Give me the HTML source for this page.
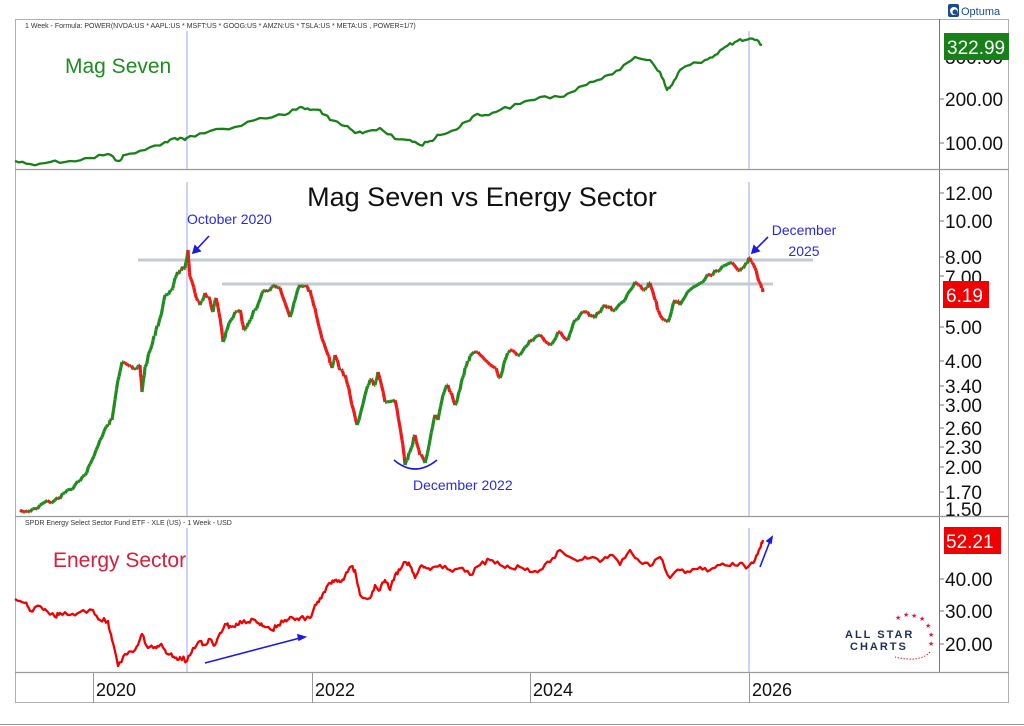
<!DOCTYPE html>
<html><head><meta charset="utf-8"><style>
html,body{margin:0;padding:0;background:#fff;width:1024px;height:726px;overflow:hidden}
svg{display:block;font-family:"Liberation Sans",Arial,sans-serif}
</style></head><body>
<svg id="s" width="1024" height="726" viewBox="0 0 1024 726" xmlns="http://www.w3.org/2000/svg">
<rect x="0" y="0" width="1024" height="726" fill="#fff"/>
<line x1="0" y1="724.5" x2="1024" y2="724.5" stroke="#999" stroke-width="1"/>
<rect x="15.5" y="19.5" width="993" height="683" fill="none" stroke="#b0b0b0" stroke-width="1"/>
<line x1="939.5" y1="19" x2="939.5" y2="672" stroke="#777" stroke-width="1"/>
<line x1="15" y1="169.5" x2="1009" y2="169.5" stroke="#999" stroke-width="1.2"/>
<line x1="15" y1="516.5" x2="1009" y2="516.5" stroke="#999" stroke-width="1.2"/>
<line x1="15" y1="672.5" x2="1009" y2="672.5" stroke="#999" stroke-width="1.2"/>
<g stroke="#999" stroke-width="1">
<line x1="93.5" y1="672" x2="93.5" y2="703"/><line x1="312.5" y1="672" x2="312.5" y2="703"/>
<line x1="530.5" y1="672" x2="530.5" y2="703"/><line x1="749.5" y1="672" x2="749.5" y2="703"/>
</g>
<g font-size="18" fill="#111">
<text x="96" y="696">2020</text><text x="315" y="696">2022</text><text x="533" y="696">2024</text><text x="752" y="696">2026</text>
</g>
<g stroke="#b4baf2" stroke-width="1.3">
<line x1="187" y1="31" x2="187" y2="169"/><line x1="187" y1="182" x2="187" y2="516"/><line x1="187" y1="528" x2="187" y2="672"/>
<line x1="749" y1="31" x2="749" y2="169"/><line x1="749" y1="182" x2="749" y2="516"/><line x1="749" y1="528" x2="749" y2="672"/>
</g>
<text x="25" y="28" font-size="7" fill="#333">1 Week - Formula: POWER(NVDA:US * AAPL:US * MSFT:US * GOOG:US * AMZN:US * TSLA:US * META:US , POWER=1/7)</text>
<text x="25" y="525" font-size="7" fill="#333">SPDR Energy Select Sector Fund ETF - XLE (US) - 1 Week - USD</text>
<text x="65" y="73" font-size="21" fill="#1f8c1f">Mag Seven</text>
<text x="53" y="567" font-size="21" fill="#d4203c">Energy Sector</text>
<text x="482" y="206" font-size="27" fill="#111" text-anchor="middle">Mag Seven vs Energy Sector</text>
<rect x="948" y="4" width="11" height="13" rx="2" fill="#1a4b8c"/><circle cx="954" cy="11" r="4" fill="#fff"/><circle cx="955" cy="12" r="2.5" fill="#1a4b8c"/>
<text x="961" y="15" font-size="11" fill="#1a4b8c">Optuma</text>
<g font-size="19" fill="#111">
<text x="945" y="106">200.00</text><text x="945" y="150">100.00</text><text x="945" y="64">300.00</text>
<text x="945" y="200">12.00</text><text x="945" y="228">10.00</text><text x="945" y="264">8.00</text><text x="945" y="284">7.00</text>
<text x="945" y="334">5.00</text><text x="945" y="368">4.00</text><text x="945" y="393">3.40</text><text x="945" y="412">3.00</text>
<text x="945" y="435">2.60</text><text x="945" y="454">2.30</text><text x="945" y="474">2.00</text><text x="945" y="499">1.70</text><text x="945" y="516">1.50</text>
<text x="945" y="586">40.00</text><text x="945" y="618">30.00</text><text x="945" y="651">20.00</text>
</g>
<g stroke="#777" stroke-width="1">
<line x1="939" y1="99" x2="944" y2="99"/><line x1="939" y1="143" x2="944" y2="143"/>
<line x1="939" y1="193" x2="944" y2="193"/><line x1="939" y1="221" x2="944" y2="221"/><line x1="939" y1="257" x2="944" y2="257"/>
<line x1="939" y1="276" x2="944" y2="276"/><line x1="939" y1="327" x2="944" y2="327"/><line x1="939" y1="361" x2="944" y2="361"/>
<line x1="939" y1="386" x2="944" y2="386"/><line x1="939" y1="405" x2="944" y2="405"/><line x1="939" y1="428" x2="944" y2="428"/>
<line x1="939" y1="447" x2="944" y2="447"/><line x1="939" y1="467" x2="944" y2="467"/><line x1="939" y1="492" x2="944" y2="492"/>
<line x1="939" y1="579" x2="944" y2="579"/><line x1="939" y1="611" x2="944" y2="611"/><line x1="939" y1="644" x2="944" y2="644"/>
</g>
<rect x="944" y="33" width="65" height="27" fill="#188018"/><text x="947" y="54" font-size="19" fill="#fff">322.99</text>
<rect x="943" y="281" width="46" height="27" fill="#f00000"/><text x="946" y="302" font-size="19" fill="#fff">6.19</text>
<rect x="944" y="527" width="57" height="27" fill="#f00000"/><text x="946" y="548" font-size="19" fill="#fff">52.21</text>
<line x1="138" y1="260" x2="813" y2="260" stroke="#c3cad3" stroke-width="3"/>
<line x1="222" y1="284" x2="773" y2="284" stroke="#c3cad3" stroke-width="3"/>
<g id="series"></g>
<g fill="#2a2ae0" font-size="14">
<text x="187" y="224">October 2020</text>
<text x="804" y="235" text-anchor="middle">December</text><text x="804" y="256" text-anchor="middle">2025</text>
<text x="413" y="490">December 2022</text>
</g>
<g stroke="#1a1ae0" stroke-width="1.6" fill="none">
<line x1="209" y1="236" x2="196" y2="250"/><path d="M193,253 l2,-7 l5,5 z" fill="#1a1ae0"/>
<line x1="768" y1="237" x2="755" y2="250"/><path d="M752,253 l2,-7 l5,5 z" fill="#1a1ae0"/>
<path d="M394,460 Q415,478 437,460"/>
<line x1="205" y1="663" x2="300" y2="638"/><path d="M305,637 l-7,-2 l1,5 z" fill="#1a1ae0"/>
<line x1="760" y1="567" x2="770" y2="541"/><path d="M772,537 l-5,4 l4,2 z" fill="#1a1ae0"/>
</g>
<g font-weight="bold" fill="#1d2e5a" font-size="11" letter-spacing="2">
<text x="845" y="638">ALL STAR</text><text x="850" y="650">CHARTS</text>
</g>
<g fill="#d4203c" font-size="7">
<text x="895" y="620">★</text><text x="903" y="617">★</text><text x="911" y="618">★</text><text x="919" y="621">★</text><text x="925" y="628">★</text><text x="928" y="637">★</text><text x="928" y="646">★</text>
</g>
<path d="M930,652 Q920,663 895,657" stroke="#d4203c" stroke-width="1" stroke-dasharray="1.5 1.5" fill="none"/>
</svg>
<script>
(function(){
var g=document.getElementById('series');
var seed=12345;
function rnd(){seed=(seed*1103515245+12345)%2147483648;return seed/2147483648;}
function jit(pts,amp){var out=[pts[0]];for(var i=1;i<pts.length;i++){var a=pts[i-1],b=pts[i];for(var k=1;k<4;k++){var t=k/4;out.push([a[0]+(b[0]-a[0])*t,a[1]+(b[1]-a[1])*t+(rnd()-0.5)*2*amp]);}out.push(b);}return out;}
function poly(pts,col,w){var p=document.createElementNS('http://www.w3.org/2000/svg','polyline');p.setAttribute('points',pts.map(function(a){return a[0].toFixed(1)+','+a[1].toFixed(1)}).join(' '));p.setAttribute('fill','none');p.setAttribute('stroke',col);p.setAttribute('stroke-width',w);p.setAttribute('stroke-linejoin','round');g.appendChild(p);}
var magPts=[[15,161],[30,164],[50,162],[70,161],[90,158],[108,154],[118,161],[125,155],[145,150],[165,142],[175,138],[185,140],[190,136],[210,131],[235,127],[260,118],[285,115],[300,107],[310,110],[320,110],[330,120],[345,126],[355,133],[365,132],[380,128],[395,139],[410,140],[420,145],[430,141],[440,135],[455,130],[465,122],[475,115],[485,115],[500,110],[520,104],[540,97],[560,97],[575,91],[590,82],[605,76],[620,70],[635,57],[650,60],[660,72],[667,90],[672,85],[680,70],[690,65],[705,60],[715,55],[725,47],[735,42],[745,40],[755,40],[762,45]];
poly(jit(magPts,1.8),'#188018',2.3);
var midPts=[[20,510],[30,512],[40,505],[55,500],[65,493],[75,485],[85,475],[92,460],[100,440],[108,425],[112,420],[118,380],[122,362],[128,365],[135,368],[140,365],[142,392],[145,367],[152,345],[156,330],[160,318],[165,295],[172,290],[175,278],[180,270],[185,268],[188,250],[190,277],[195,293],[200,305],[205,293],[210,300],[213,312],[216,298],[220,318],[223,342],[227,330],[235,312],[240,310],[244,330],[247,327],[250,320],[255,310],[262,293],[268,290],[275,285],[280,288],[290,317],[295,300],[300,285],[305,287],[310,290],[315,308],[320,330],[328,355],[332,368],[335,355],[340,370],[345,375],[350,395],[357,425],[365,395],[370,380],[375,385],[378,372],[385,402],[395,400],[402,440],[405,465],[410,452],[415,435],[420,455],[425,463],[430,440],[435,415],[438,420],[443,395],[448,385],[455,405],[460,390],[465,368],[470,356],[478,352],[485,360],[495,368],[500,378],[505,360],[510,350],[520,355],[530,340],[540,335],[550,345],[558,332],[568,340],[575,320],[585,312],[595,318],[605,305],[615,310],[625,300],[635,282],[640,285],[645,290],[650,283],[655,300],[660,315],[668,322],[675,300],[680,305],[690,290],[700,283],[710,275],[720,270],[730,263],[738,270],[745,265],[750,258],[755,268],[760,283],[763,292]];
var mj=jit(midPts,2.5);
for(var i=1;i<mj.length;i++){poly([mj[i-1],mj[i]],mj[i][1]<mj[i-1][1]?'#1f8c1f':'#f01818',3.2);}
var botPts=[[15,599],[25,603],[30,611],[40,606],[45,609],[55,617],[60,613],[70,615],[80,612],[93,610],[100,620],[108,621],[112,640],[118,666],[125,654],[133,652],[138,645],[142,634],[148,648],[155,647],[160,645],[165,650],[170,654],[175,658],[180,657],[187,661],[193,648],[200,641],[205,645],[210,639],[215,645],[220,633],[225,624],[230,626],[235,627],[240,621],[248,622],[255,620],[260,625],[265,627],[272,630],[278,625],[285,620],[290,617],[295,620],[300,618],[310,618],[315,605],[320,598],[325,592],[330,583],[335,580],[340,582],[345,576],[350,567],[355,570],[360,595],[370,598],[375,585],[380,590],[385,580],[390,590],[395,575],[400,570],[405,562],[410,566],[415,578],[420,567],[425,567],[430,570],[440,565],[450,570],[460,568],[470,575],[480,565],[490,560],[500,565],[510,568],[520,567],[530,572],[540,570],[550,562],[560,550],[570,557],[580,560],[590,558],[600,562],[610,555],[620,565],[630,550],[640,562],[650,566],[660,557],[670,578],[680,570],[690,572],[700,567],[710,570],[720,565],[730,566],[740,563],[748,567],[755,560],[760,548],[763,540]];
poly(jit(botPts,2.5),'#f00000',2.3);
})();
</script>
</body></html>
